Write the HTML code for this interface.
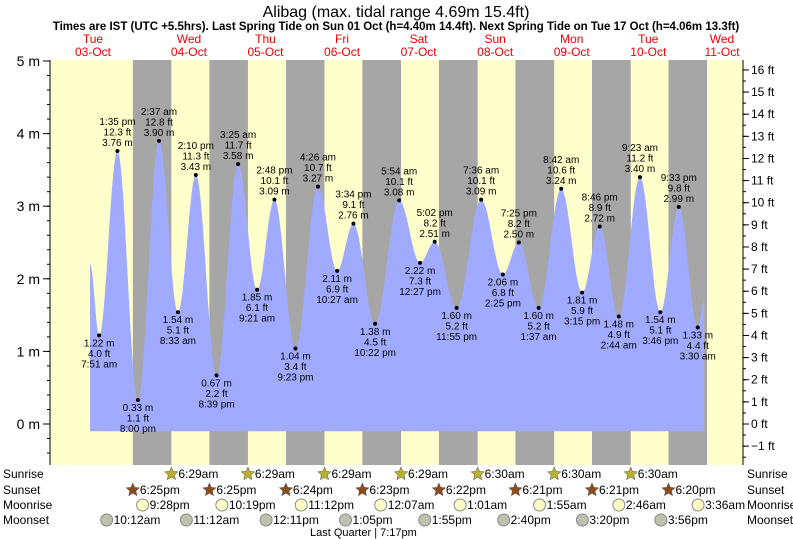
<!DOCTYPE html>
<html><head><meta charset="utf-8"><style>
body{margin:0;background:#fff;}
svg{display:block;font-family:"Liberation Sans",sans-serif;}
</style></head><body>
<svg id="chart" width="793" height="539">
<g id="bands"></g><g id="fill"></g><g id="labels"></g><g id="axes"></g><g id="bottom"></g>
</svg>
<script>
// data
const tideTimes=["03 05:00","03 07:51","03 13:35","03 20:00","04 02:37","04 08:33","04 14:10","04 20:39","05 03:25","05 09:21","05 14:48","05 21:23","06 04:26","06 10:27","06 15:34","06 22:22","07 05:54","07 12:27","07 17:02","07 23:55","08 07:36","08 14:25","08 19:25","09 01:37","09 08:42","09 15:15","09 20:46","10 02:44","10 09:23","10 15:46","10 21:33","11 03:30","11 05:30"];
const tideHeights=[2.2,1.22,3.76,0.33,3.90,1.54,3.43,0.67,3.58,1.85,3.09,1.04,3.27,2.11,2.76,1.38,3.08,2.22,2.51,1.60,3.09,2.06,2.50,1.60,3.24,1.81,2.72,1.48,3.40,1.54,2.99,1.33,1.7];
const tideLabels=["","7:51 am","1:35 pm","8:00 pm","2:37 am","8:33 am","2:10 pm","8:39 pm","3:25 am","9:21 am","2:48 pm","9:23 pm","4:26 am","10:27 am","3:34 pm","10:22 pm","5:54 am","12:27 pm","5:02 pm","11:55 pm","7:36 am","2:25 pm","7:25 pm","1:37 am","8:42 am","3:15 pm","8:46 pm","2:44 am","9:23 am","3:46 pm","9:33 pm","3:30 am",""];
const dayNames=["Tue","Wed","Thu","Fri","Sat","Sun","Mon","Tue","Wed"];
const dayDates=["03-Oct","04-Oct","05-Oct","06-Oct","07-Oct","08-Oct","09-Oct","10-Oct","11-Oct"];
const sunriseTimes=["04 06:29","05 06:29","06 06:29","07 06:29","08 06:30","09 06:30","10 06:30"];
const sunsetTimes=["03 18:25","04 18:25","05 18:24","06 18:23","07 18:22","08 18:21","09 18:21","10 18:20"];
const moonriseTimes=["03 21:28","04 22:19","05 23:12","07 00:07","08 01:01","09 01:55","10 02:46","11 03:36"];
const moonsetTimes=["03 10:12","04 11:12","05 12:11","06 13:05","07 13:55","08 14:40","09 15:20","10 15:56"];
const leftTicks=[5,4,3,2,1,0];
const rightTicks=[16,15,14,13,12,11,10,9,8,7,6,5,4,3,2,1,0,-1];

const NS="http://www.w3.org/2000/svg";
const X0=50,X1=743,Y0=60,Y1=465;
function hrs(s){const d=+s.slice(0,2),h=+s.slice(3,5),m=+s.slice(6,8);return (d-3)*24+h+m/60;}
function xs(t){return 74.1+3.19*t;}
function ys(m){return 424-72.6*m;}
function fmt12(s){let h=+s.slice(3,5),m=s.slice(6,8);const ap=h>=12?"pm":"am";h=h%12;if(h==0)h=12;return h+":"+m+ap;}
function el(tag,attrs,parent,txt){const e=document.createElementNS(NS,tag);for(const k in attrs)e.setAttribute(k,attrs[k]);if(txt!=null)e.textContent=txt;parent.appendChild(e);return e;}
const bands=document.getElementById('bands');
let bg=el('rect',{x:X0,y:Y0,width:X1-X0,height:Y1-Y0,fill:'#ffffcc'},bands);


const riseEnd=sunriseTimes.concat(["11 06:25"]);
for(let i=0;i<sunsetTimes.length;i++){
  const a=Math.max(X0,xs(hrs(sunsetTimes[i]))),b=Math.min(X1,xs(hrs(riseEnd[i])));
  const r=el('rect',{x:a,y:Y0,width:b-a,height:Y1-Y0,fill:'#a6a6a6'},bands);
  
  
}
// tide curve
const T=tideTimes.map(hrs);
let d="M"+xs(T[0]).toFixed(1)+","+ys(-0.1)+" ";
for(let i=0;i<T.length-1;i++){
  for(let k=0;k<=20;k++){const f=k/20,t=T[i]+(T[i+1]-T[i])*f;const h=tideHeights[i]+(tideHeights[i+1]-tideHeights[i])*(1-Math.cos(Math.PI*f))/2;d+="L"+xs(t).toFixed(1)+","+ys(h).toFixed(1)+" ";}
}
d+="L"+xs(T[T.length-1]).toFixed(1)+","+ys(-0.1)+"Z";
const area=el('path',{d:d,fill:'#a0aaff'},document.getElementById('fill'));


const lab=document.getElementById('labels');
for(let i=1;i<T.length-1;i++){
  const x=xs(T[i]),y=ys(tideHeights[i]);
  const high=tideHeights[i]>tideHeights[i-1];
  const p=el('circle',{cx:x,cy:y,r:2,fill:'#000'},lab);
  
  
  const ft=(tideHeights[i]*3.2808).toFixed(1)+" ft",m=tideHeights[i].toFixed(2)+" m";
  const lines=high?[tideLabels[i],ft,m]:[m,ft,tideLabels[i]];
  const by=high?y-26:y+11;
  const g=el('text',{x:x,y:by,'font-size':10,'text-anchor':'middle',fill:'#000'},lab);
  
  
  lines.forEach((s,j)=>el('tspan',{x:x,y:by+j*10.5},g,s));
}
// axes
const ax=document.getElementById('axes');
el('line',{x1:X0,y1:Y0,x2:X0,y2:Y1,stroke:'#000'},ax);
el('line',{x1:X1,y1:Y0,x2:X1,y2:Y1,stroke:'#000'},ax);
for(let v=-0.4;v<=5.01;v+=0.2){const y=ys(v);el('line',{x1:X0-3,y1:y,x2:X0,y2:y,stroke:'#000'},ax);}
for(let v=-1.5;v<=16.01;v+=0.5){const y=424-v/3.2808*72.6;el('line',{x1:X1,y1:y,x2:X1+3,y2:y,stroke:'#000'},ax);}
leftTicks.forEach(v=>{const y=ys(v);el('line',{x1:X0-7,y1:y,x2:X0,y2:y,stroke:'#000'},ax);
  const t=el('text',{x:X0-10,y:y+5,'font-size':14,'text-anchor':'end'},ax,v+" m");
  
  });
rightTicks.forEach(v=>{const y=424-v/3.2808*72.6;el('line',{x1:X1,y1:y,x2:X1+6,y2:y,stroke:'#000'},ax);
  const t=el('text',{x:X1+8,y:y+4,'font-size':12},ax,(v<0?"\u22121":v)+" ft");
  
  });
let tt=el('text',{x:396,y:17,'font-size':16,'text-anchor':'middle'},ax,"Alibag (max. tidal range 4.69m 15.4ft)");


let st=el('text',{x:396,y:30,'font-size':11.5,'font-weight':'bold','text-anchor':'middle'},ax,"Times are IST (UTC +5.5hrs). Last Spring Tide on Sun 01 Oct (h=4.40m 14.4ft). Next Spring Tide on Tue 17 Oct (h=4.06m 13.3ft)");


dayNames.forEach((n,i)=>{const x=xs(i*24+12);const cx=i==0?93:(i==8?722:x);
  const t=el('text',{'font-size':12,'text-anchor':'middle',fill:'#e00'},ax);
  
  
  el('tspan',{x:cx,y:43},t,n);el('tspan',{x:cx,y:56},t,dayDates[i]);});
// bottom rows
const bt=document.getElementById('bottom');
const rows=[["Sunrise",474],["Sunset",490],["Moonrise",505],["Moonset",520]];
rows.forEach(r=>{let a=el('text',{x:3,y:r[1]+4,'font-size':12},bt,r[0]);
  let b=el('text',{x:747,y:r[1]+4,'font-size':12},bt,r[0]);});
function star(x,y,c){let p="";for(let k=0;k<10;k++){const a=-Math.PI/2+k*Math.PI/5,r=k%2?3.2:7;p+=(x+r*Math.cos(a)).toFixed(1)+","+(y+r*Math.sin(a)).toFixed(1)+" ";}return el('polygon',{points:p,fill:c,stroke:'#555','stroke-width':0.5},bt);}
function item(list,y,kind){list.forEach(s=>{const x=xs(hrs(s));if(x>X1)return;let ic;
  if(kind=='sr')ic=star(x,y,'#b8b030');else if(kind=='ss')ic=star(x,y,'#8b4c20');
  else ic=el('circle',{cx:x,cy:y,r:6,fill:kind=='mr'?'#ffffc8':'#c0c0b0',stroke:'#888'},bt);
  
  
  const t=el('text',{x:x+7,y:y+4,'font-size':12},bt,fmt12(s));
  
  });}
item(sunriseTimes,474,'sr');item(sunsetTimes,490,'ss');item(moonriseTimes,505,'mr');item(moonsetTimes,520,'ms');
let lq=el('text',{x:310,y:536,'font-size':11},bt,"Last Quarter | 7:17pm");


</script>
</body></html>
